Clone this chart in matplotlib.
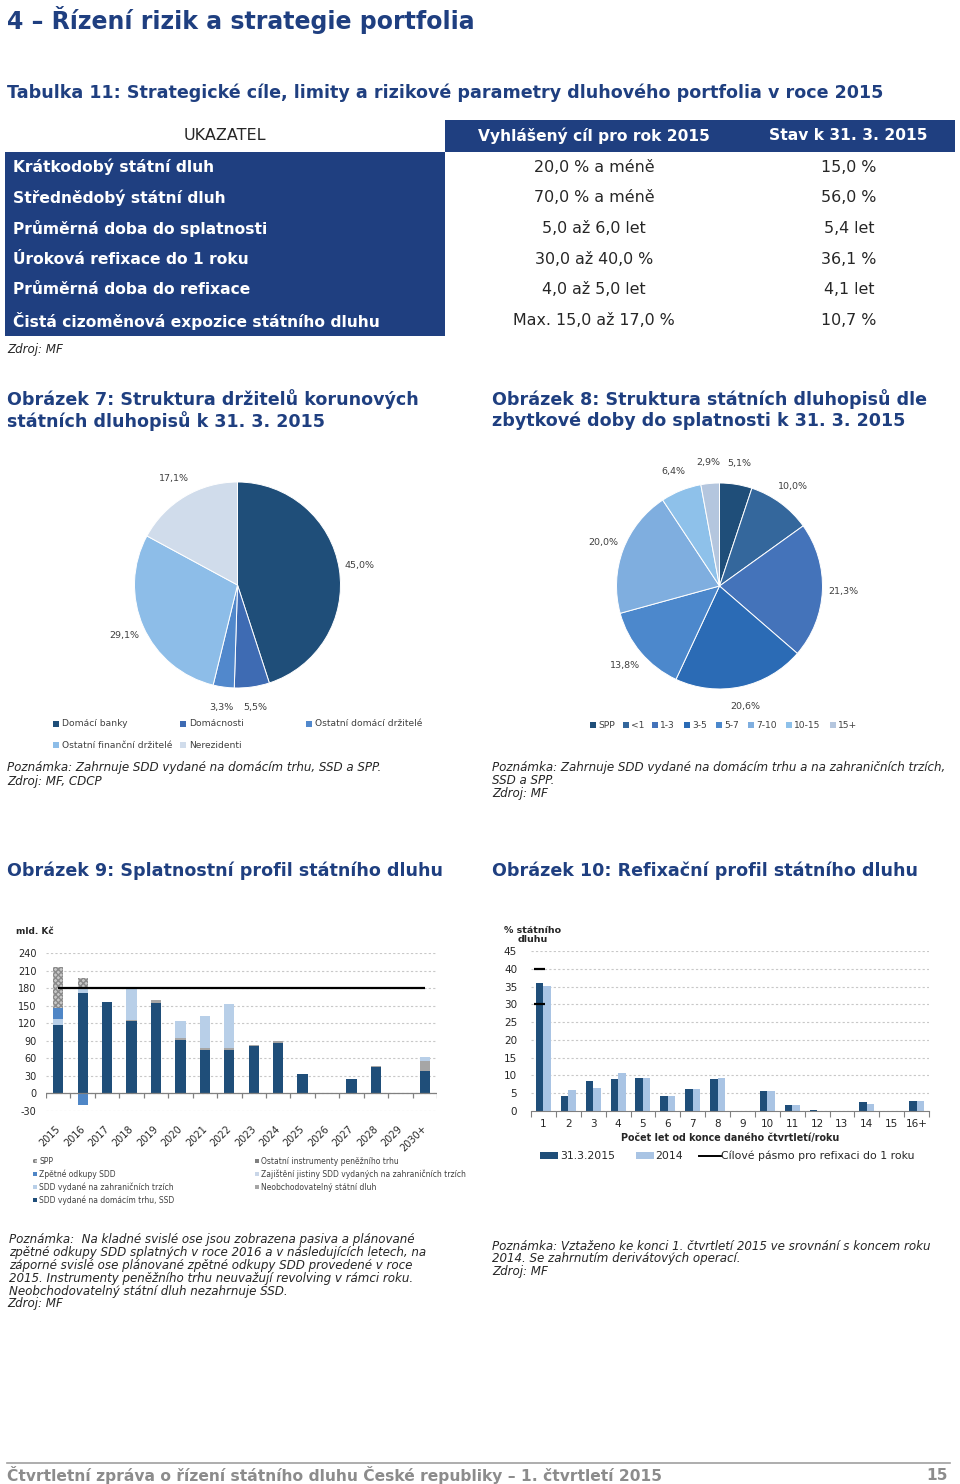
import numpy as np
import matplotlib
matplotlib.use("Agg")
import matplotlib.pyplot as plt
from matplotlib.patches import Rectangle
from matplotlib.transforms import ScaledTranslation

plt.rcParams['font.family'] = ['DejaVu Sans']
plt.rcParams['axes.unicode_minus'] = False

# ---------------- DATA ----------------
table_header = ["UKAZATEL", "Vyhlášený cíl pro rok 2015", "Stav k 31. 3. 2015"]
table_labels = ["Krátkodobý státní dluh", "Střednědobý státní dluh", "Průměrná doba do splatnosti",
                "Úroková refixace do 1 roku", "Průměrná doba do refixace",
                "Čistá cizoměnová expozice státního dluhu"]
table_target = ["20,0 % a méně", "70,0 % a méně", "5,0 až 6,0 let", "30,0 až 40,0 %",
                "4,0 až 5,0 let", "Max. 15,0 až 17,0 %"]
table_state = ["15,0 %", "56,0 %", "5,4 let", "36,1 %", "4,1 let", "10,7 %"]

holders = ["Domácí banky", "Domácnosti", "Ostatní domácí držitelé", "Ostatní finanční držitelé", "Nerezidenti"]
holders_share = [45.0, 5.5, 3.3, 29.1, 17.1]

maturity_groups = ["SPP", "<1", "1-3", "3-5", "5-7", "7-10", "10-15", "15+"]
maturity_share = [5.1, 10.0, 21.3, 20.6, 13.8, 20.0, 6.4, 2.9]

years = ["2015", "2016", "2017", "2018", "2019", "2020", "2021", "2022", "2023", "2024",
         "2025", "2026", "2027", "2028", "2029", "2030+"]
sdd_domestic = [117, 171, 156, 123, 155, 91, 74, 74, 81, 87, 33, 0, 24, 46, 0, 39]
nonmarketable = [0, 0, 0, 3, 4, 4, 4, 3, 2, 3, 0, 1, 0, 1.5, 1, 17]
sdd_foreign = [10, 8, 0, 55, 0, 28, 54, 76, 0, 0, 0, 0, 0, 0, 0, 7]
buybacks = [19, -20, 0, 0, 0, -1, 0, 0, 0, 0, 0, 0, 0, 0, 0, 0]
spp = [70, 19, 0, 0, 0, 0, 0, 0, 0, 0, 0, 0, 0, 0, 0, 0]
other_mm = [0] * 16
principal_hedge = [0] * 16
limit_level = 180

refix_cats = ["1", "2", "3", "4", "5", "6", "7", "8", "9", "10", "11", "12", "13", "14", "15", "16+"]
refix_2015q1 = [36.1, 4.2, 8.5, 9.0, 9.3, 4.2, 6.2, 9.0, 0, 5.7, 1.8, 0.3, 0, 2.6, 0, 2.9]
refix_2014 = [35.2, 6.0, 6.6, 10.6, 9.3, 4.2, 6.2, 9.3, 0, 5.7, 1.6, 0.1, 0, 2.1, 0, 2.9]
target_band = [30, 40]

# ---------------- STYLE ----------------
NAVY = "#1F3F80"
TXT = "#262626"
GRAY_T = "#404040"
W, H = 960, 1484

fig = plt.figure(figsize=(W / 100, H / 100), dpi=100)
bg = fig.add_axes([0, 0, 1, 1])
bg.set_xlim(0, W)
bg.set_ylim(H, 0)
bg.axis('off')


def ax_px(x0, y0, x1, y1):
    return fig.add_axes([x0 / W, 1 - y1 / H, (x1 - x0) / W, (y1 - y0) / H])


def txt(x, y, s, size, color=TXT, weight='normal', style='normal', ha='left', va='center'):
    bg.text(x, y, s, fontsize=size, color=color, fontweight=weight, fontstyle=style, ha=ha, va=va)


NOTE_FS = 8.6
HEAD_FS = 12.6

# ---------------- HEADINGS ----------------
txt(7, 20, "4 – Řízení rizik a strategie portfolia", 17, NAVY, 'bold')
txt(7, 93, "Tabulka 11: Strategické cíle, limity a rizikové parametry dluhového portfolia v roce 2015", 12.65, NAVY, 'bold')

# ---------------- TABLE ----------------
bg.add_patch(Rectangle((445, 120), 510, 32, color=NAVY, lw=0))
bg.add_patch(Rectangle((5, 152), 440, 184, color=NAVY, lw=0))
txt(225, 136, table_header[0], 11.5, TXT, ha='center')
txt(594, 136, table_header[1], 11.2, 'white', 'bold', ha='center')
txt(848, 136, table_header[2], 11.2, 'white', 'bold', ha='center')
row_h = 30.7
for i, (lab, tg, st) in enumerate(zip(table_labels, table_target, table_state)):
    yc = 167 + i * row_h
    txt(13, yc, lab, 11.2, 'white', 'bold')
    txt(594, yc, tg, 11.4, TXT, ha='center')
    txt(849, yc, st, 11.4, TXT, ha='center')
txt(7, 349, "Zdroj: MF", NOTE_FS, TXT, style='italic')

# ---------------- FIGURE HEADINGS ----------------
txt(7, 399, "Obrázek 7: Struktura držitelů korunových", HEAD_FS, NAVY, 'bold')
txt(7, 421, "státních dluhopisů k 31. 3. 2015", HEAD_FS, NAVY, 'bold')
txt(492, 399, "Obrázek 8: Struktura státních dluhopisů dle", HEAD_FS, NAVY, 'bold')
txt(492, 421, "zbytkové doby do splatnosti k 31. 3. 2015", HEAD_FS, NAVY, 'bold')
txt(7, 871, "Obrázek 9: Splatnostní profil státního dluhu", HEAD_FS, NAVY, 'bold')
txt(492, 871, "Obrázek 10: Refixační profil státního dluhu", HEAD_FS, NAVY, 'bold')


def fmt_pct(v):
    return f"{v:.1f}%".replace('.', ',')


def legend_sq(x, y, color, label, size, sq=6, gap=3, hatch=None):
    bg.add_patch(Rectangle((x, y - sq / 2), sq, sq, facecolor=color,
                           edgecolor='none' if hatch is None else '#808080', lw=0, hatch=hatch))
    txt(x + sq + gap, y, label, size, GRAY_T)


# ---------------- PIE 1 ----------------
pie1_colors = ["#1F4E79", "#3E6BB3", "#5188CC", "#8DBDE8", "#D0DCEB"]
cx, cy, r = 237.5, 585, 103
ax1 = ax_px(cx - r, cy - r, cx + r, cy + r)
w1, t1 = ax1.pie(holders_share, colors=pie1_colors, startangle=90, counterclock=False,
                 labels=[fmt_pct(v) for v in holders_share], labeldistance=1.2,
                 wedgeprops=dict(edgecolor='white', linewidth=0.7),
                 textprops=dict(fontsize=6.8, color=GRAY_T))
for t in t1:
    t.set_ha('center'); t.set_va('center')
ax1.set_xlim(-1, 1); ax1.set_ylim(-1, 1)

pie1_leg_pos = [(53, 724), (180, 724), (306, 724), (53, 745), (180, 745)]
for (x, y), c, lab in zip(pie1_leg_pos, pie1_colors, holders):
    legend_sq(x, y, c, lab, 6.6)

# ---------------- PIE 2 ----------------
pie2_colors = ["#1F4E79", "#34679C", "#4473BA", "#2B6BB5", "#4C88CC", "#7FAEDF", "#8EC1EA", "#B4C6DE"]
cx2, cy2 = 719.5, 586
ax2 = ax_px(cx2 - r, cy2 - r, cx2 + r, cy2 + r)
w2, t2 = ax2.pie(maturity_share, colors=pie2_colors, startangle=90, counterclock=False,
                 labels=[fmt_pct(v) for v in maturity_share], labeldistance=1.2,
                 wedgeprops=dict(edgecolor='white', linewidth=0.7),
                 textprops=dict(fontsize=6.8, color=GRAY_T))
for t in t2:
    t.set_ha('center'); t.set_va('center')
ax2.set_xlim(-1, 1); ax2.set_ylim(-1, 1)
pie2_leg_x = [590, 623, 652, 684, 716, 748, 786, 830]
for x, c, lab in zip(pie2_leg_x, pie2_colors, maturity_groups):
    legend_sq(x, 725, c, lab, 6.6, sq=6, gap=2)

# notes under pies
txt(7, 768, "Poznámka: Zahrnuje SDD vydané na domácím trhu, SSD a SPP.", NOTE_FS, TXT, style='italic')
txt(7, 781, "Zdroj: MF, CDCP", NOTE_FS, TXT, style='italic')
txt(492, 768, "Poznámka: Zahrnuje SDD vydané na domácím trhu a na zahraničních trzích,", NOTE_FS, TXT, style='italic')
txt(492, 781, "SSD a SPP.", NOTE_FS, TXT, style='italic')
txt(492, 794, "Zdroj: MF", NOTE_FS, TXT, style='italic')

# ---------------- BAR CHART 9 ----------------
ax3 = ax_px(46, 953, 437, 1111)
x = np.arange(len(years))
bw = 0.42
c_dom, c_non, c_for, c_bb, c_omm, c_hed = "#1F4E79", "#A6A6A6", "#B8CFE8", "#4F86C6", "#7F7F7F", "#C9D6E8"
dom = np.array(sdd_domestic, float)
non = np.array(nonmarketable, float)
fo = np.array(sdd_foreign, float)
bb = np.array(buybacks, float)
bb_pos = np.where(bb > 0, bb, 0)
bb_neg = np.where(bb < 0, bb, 0)
sp = np.array(spp, float)
om = np.array(other_mm, float)
he = np.array(principal_hedge, float)
bottom = np.zeros(len(x))
for vals, col, hatch in [(dom, c_dom, None), (non, c_non, None), (fo, c_for, None),
                         (bb_pos, c_bb, None), (sp, "#C8C8C8", "xxxxxx"), (om, c_omm, None), (he, c_hed, None)]:
    ax3.bar(x, vals, bw, bottom=bottom, color=col, hatch=hatch, edgecolor='#8A8A8A' if hatch else 'none', lw=0)
    bottom = bottom + vals
ax3.bar(x, bb_neg, bw, color=c_bb, lw=0)
ax3.hlines(limit_level, x[0], x[-1], color='black', lw=1.6, zorder=5)
ax3.set_xlim(-0.5, len(x) - 0.5)
ax3.set_ylim(-30, 240)
ax3.set_yticks(np.arange(-30, 241, 30))
ax3.yaxis.grid(True, color='#C8C8C8', linestyle=(0, (2, 2)), lw=0.8)
ax3.set_axisbelow(True)
for s in ['left', 'right', 'top', 'bottom']:
    ax3.spines[s].set_visible(False)
ax3.axhline(0, color='#808080', lw=0.9, zorder=3)
ax3.vlines(np.arange(-0.5, len(x), 1.0), -7, 0, color='#808080', lw=0.9, zorder=3)
ax3.tick_params(axis='y', length=0, labelsize=7, labelcolor=TXT, pad=7)
ax3.set_xticks(x)
ax3.set_xticklabels(years, rotation=45, ha='right', va='top')
ax3.tick_params(axis='x', length=0, labelsize=7, labelcolor=TXT, pad=9)
shift = ScaledTranslation(4 / 100, 0, fig.dpi_scale_trans)
for lbl in ax3.get_xticklabels():
    lbl.set_transform(lbl.get_transform() + shift)
txt(16, 932, "mld. Kč", 6.5, TXT, 'bold')

leg9_left = [("SPP", "#C8C8C8", "xxxxxx"), ("Zpětné odkupy SDD", c_bb, None),
             ("SDD vydané na zahraničních trzích", c_for, None), ("SDD vydané na domácím trhu, SSD", c_dom, None)]
leg9_right = [("Ostatní instrumenty peněžního trhu", c_omm, None),
              ("Zajištění jistiny SDD vydaných na zahraničních trzích", c_hed, None),
              ("Neobchodovatelný státní dluh", c_non, None)]
for i, (lab, col, h) in enumerate(leg9_left):
    legend_sq(33, 1161 + i * 13, col, lab, 5.5, sq=4, gap=2, hatch=h)
for i, (lab, col, h) in enumerate(leg9_right):
    legend_sq(255, 1161 + i * 13, col, lab, 5.5, sq=4, gap=2, hatch=h)

# ---------------- BAR CHART 10 ----------------
ax4 = ax_px(531, 951, 929, 1111)
xr = np.arange(len(refix_cats))
bw2 = 0.3
ax4.bar(xr - bw2 / 2, refix_2015q1, bw2, color="#1F4E79", lw=0)
ax4.bar(xr + bw2 / 2, refix_2014, bw2, color="#A9C4E4", lw=0)
ax4.hlines(target_band, xr[0] - 0.38, xr[0] + 0.06, color='black', lw=1.6, zorder=5)
ax4.set_xlim(-0.5, len(xr) - 0.5)
ax4.set_ylim(0, 45)
ax4.set_yticks(np.arange(0, 46, 5))
ax4.yaxis.grid(True, color='#C8C8C8', linestyle=(0, (2, 2)), lw=0.8)
ax4.set_axisbelow(True)
for s in ['left', 'right', 'top']:
    ax4.spines[s].set_visible(False)
ax4.spines['bottom'].set_color('#808080')
ax4.tick_params(axis='y', length=0, labelsize=7.5, labelcolor=TXT, pad=10)
ax4.set_xticks(np.arange(-0.5, len(xr), 1.0))
ax4.set_xticklabels([])
ax4.tick_params(axis='x', which='major', length=4, color='#808080')
ax4.set_xticks(xr, minor=True)
ax4.set_xticklabels(refix_cats, minor=True)
ax4.tick_params(axis='x', which='minor', length=0, labelsize=7.5, labelcolor=TXT, pad=6)
ax4.set_xlabel("Počet let od konce daného čtvrtletí/roku", fontsize=6.9, fontweight='bold', color=TXT, labelpad=3)
bg.text(533, 935, "% státního\ndluhu", fontsize=6.8, fontweight='bold', color=TXT, ha='center', va='center',
        multialignment='center', linespacing=1.1)
# legend
bg.add_patch(Rectangle((540, 1152), 18, 7, color="#1F4E79", lw=0))
txt(560, 1156, "31.3.2015", 7.8, TXT)
bg.add_patch(Rectangle((636, 1152), 18, 7, color="#A9C4E4", lw=0))
txt(655, 1156, "2014", 7.8, TXT)
bg.plot([699, 721], [1155.5, 1155.5], color='black', lw=1.4)
txt(721, 1156, "Cílové pásmo pro refixaci do 1 roku", 7.8, TXT)

# ---------------- NOTES ----------------
left_note = ["Poznámka:  Na kladné svislé ose jsou zobrazena pasiva a plánované",
             "zpětné odkupy SDD splatných v roce 2016 a v následujících letech, na",
             "záporné svislé ose plánované zpětné odkupy SDD provedené v roce",
             "2015. Instrumenty peněžního trhu neuvažují revolving v rámci roku.",
             "Neobchodovatelný státní dluh nezahrnuje SSD."]
for i, line in enumerate(left_note):
    txt(9, 1240 + i * 12.8, line, NOTE_FS, TXT, style='italic')
txt(7, 1304, "Zdroj: MF", NOTE_FS, TXT, style='italic')
right_note = ["Poznámka: Vztaženo ke konci 1. čtvrtletí 2015 ve srovnání s koncem roku",
              "2014. Se zahrnutím derivátových operací.", "Zdroj: MF"]
for i, line in enumerate(right_note):
    txt(492, 1246 + i * 12.6, line, NOTE_FS, TXT, style='italic')

# ---------------- FOOTER ----------------
bg.plot([7, 950], [1463, 1463], color='#A0A0A0', lw=1.2)
txt(7, 1475, "Čtvrtletní zpráva o řízení státního dluhu České republiky – 1. čtvrtletí 2015", 11.2, '#8C8C8C', 'bold')
txt(948, 1475, "15", 11.2, '#8C8C8C', 'bold', ha='right')

fig.savefig("out.png", dpi=100)
